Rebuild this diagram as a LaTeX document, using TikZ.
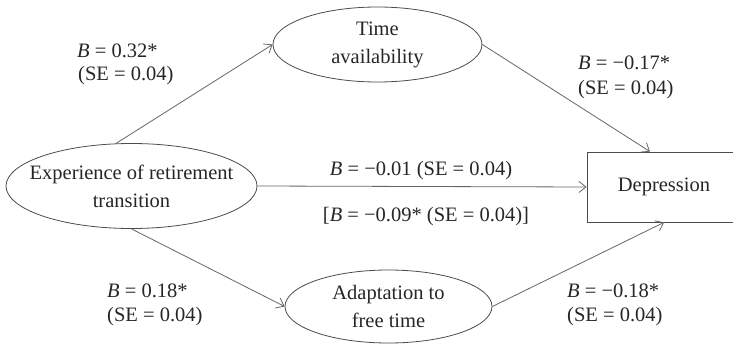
\documentclass[tikz,border=0pt]{standalone}
\usepackage{fontspec}
\setmainfont{Liberation Serif}
\usetikzlibrary{arrows.meta,shapes.geometric}
\begin{document}
\begin{tikzpicture}[x=1pt,y=-1pt,
  txt/.style={font=\fontsize{20.5}{28}\selectfont, text=black!85},
  ell/.style={ellipse, draw=black!70, line width=0.8pt, inner xsep=-60pt, inner ysep=-25pt, align=center, txt},
  boxnode/.style={rectangle, draw=black!70, line width=0.8pt, inner sep=0pt, txt},
  lab/.style={inner sep=0pt, anchor=base west, txt},
  labc/.style={inner sep=0pt, anchor=base, txt},
  conn/.style={draw=black!60, line width=0.8pt, -{Straight Barb[length=7pt,width=11pt]}}
]
\useasboundingbox (0,0) rectangle (733,345);
\clip (0,0) rectangle (733,345);
\fill[white] (0,0) rectangle (733,345);

\node[ell, minimum width=251pt, minimum height=85pt] (exp) at (131.5,186) {Experience of retirement\\transition};
\node[ell, minimum width=209pt, minimum height=75pt] (time) at (377.5,44.5) {Time\\availability};
\node[ell, minimum width=207pt, minimum height=73pt] (adapt) at (388.5,306.5) {Adaptation to\\free time};
\node[boxnode, minimum width=154pt, minimum height=70pt] (dep) at (664,187) {Depression};

\draw[conn] (exp.110) -- (time.west);
\draw[conn] (time.east) -- ([xshift=-14pt]dep.north);
\draw[conn] (exp.east) -- (dep.west);
\draw[conn] (exp.south) -- (adapt.west);
\draw[conn] (adapt.east) -- (dep.south);

\node[lab] (l1a) at (77,57) {\textit{B} = 0.32*};
\node[lab] (l1b) at (78,80) {(SE = 0.04)};
\node[lab] (l2a) at (578,70) {\textit{B} = −0.17*};
\node[lab] (l2b) at (578,94) {(SE = 0.04)};
\node[labc] (l3) at (421,175) {\textit{B} = −0.01 (SE = 0.04)};
\node[labc] (l4) at (426,221) {[\textit{B} = −0.09* (SE = 0.04)]};
\node[lab] (l5a) at (107,297) {\textit{B} = 0.18*};
\node[lab] (l5b) at (107,321) {(SE = 0.04)};
\node[lab] (l6a) at (567,297) {\textit{B} = −0.18*};
\node[lab] (l6b) at (567,321) {(SE = 0.04)};
\end{tikzpicture}
\end{document}
